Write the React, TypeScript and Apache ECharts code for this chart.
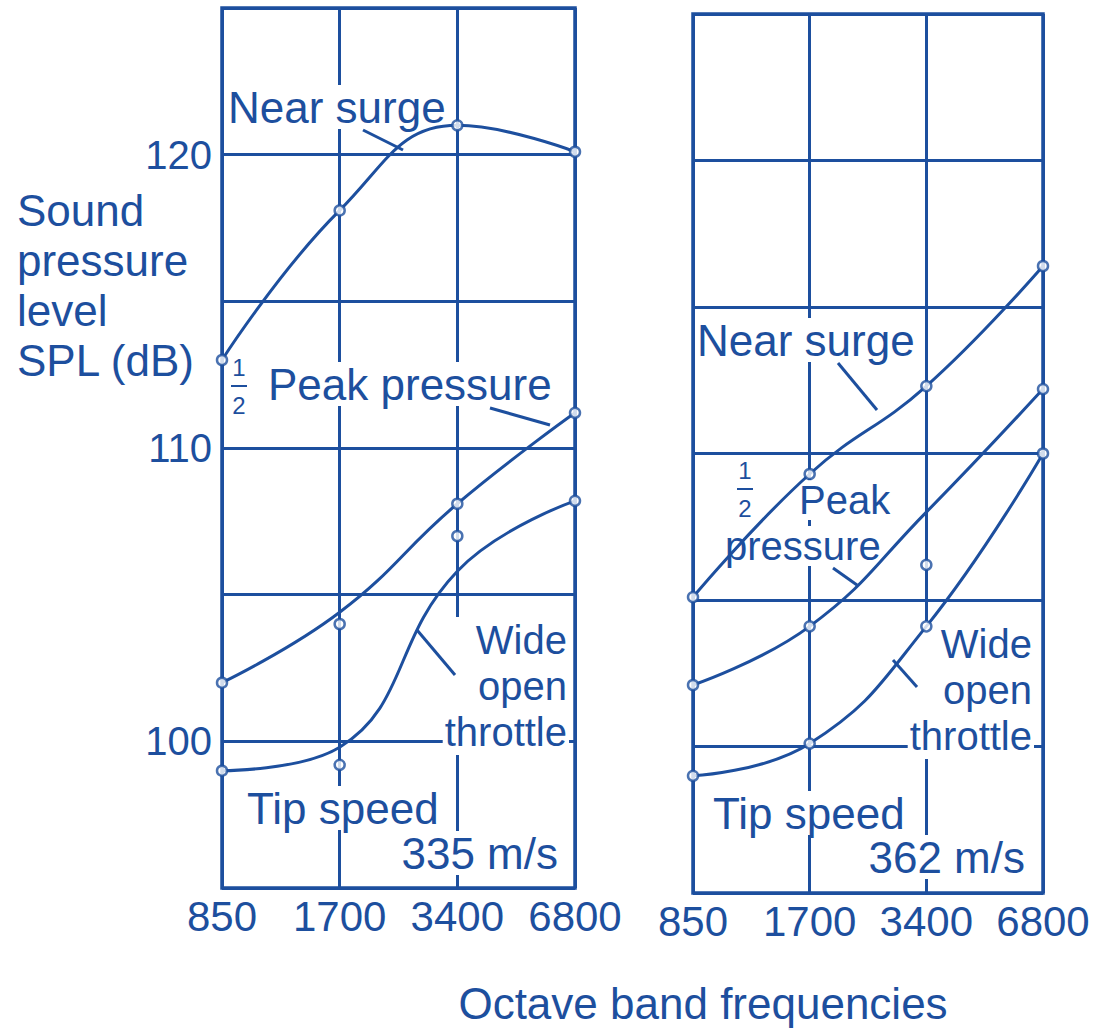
import React, { useEffect, useRef } from "react";
import * as echarts from "echarts";

// ---- data ----
const freqLabels = ["850", "1700", "3400", "6800"];
const yLabelledTicks = [100, 110, 120];

// Tip speed 335 m/s (left panel)
const nearSurge335 = [113, 118.1, 121, 120.1];
const peakPoints335 = [102, 104, 108.1, 111.2];
const peakCurve335 = [102, 104.4, 108.1, 111.2];
const wotPoints335 = [99, 99.2, 107, 108.2];
const wotCurve335 = [99, 99.8, 105.8, 108.2];

// Tip speed 362 m/s (right panel)
const nearSurge362 = [105.1, 109.3, 112.3, 116.4];
const peakPoints362 = [102.1, 104.1, 106.2, 112.2];
const peakCurve362 = [102.1, 104.1, 108, 112.2];
const wotPoints362 = [99, 100.1, 104.1, 110];
const wotCurve362 = [99, 100.1, 104.1, 110];

const BLUE = "#1d4f9e";
const FONT = '"Liberation Sans", Arial, sans-serif';

function curve(name: string, data: number[], axis: number) {
  return {
    name,
    type: "line",
    xAxisIndex: axis,
    yAxisIndex: axis,
    data,
    smooth: 0.45,
    showSymbol: false,
    symbol: "none",
    lineStyle: { color: BLUE, width: 3 },
    z: 3,
  };
}
function points(name: string, data: number[], axis: number) {
  return {
    name,
    type: "scatter",
    xAxisIndex: axis,
    yAxisIndex: axis,
    data,
    symbol: "circle",
    symbolSize: 10,
    itemStyle: { color: "#ffffff", borderColor: BLUE, borderWidth: 2.5 },
    z: 4,
  };
}

function label(text: string, x: number, y: number, align = "left", size = 44, bg = true, lineHeight?: number) {
  return {
    type: "text",
    x,
    y,
    z: 1,
    style: {
      text,
      font: `${size}px ${FONT}`,
      fill: BLUE,
      align,
      verticalAlign: "middle",
      textAlign: align,
      textVerticalAlign: "middle",
      lineHeight: lineHeight || size,
      backgroundColor: bg ? "#ffffff" : undefined,
      padding: bg ? [0, 2, 0, 2] : 0,
    },
  };
}
function pointer(x1: number, y1: number, x2: number, y2: number) {
  return {
    type: "line",
    z: 5,
    shape: { x1, y1, x2, y2 },
    style: { stroke: BLUE, lineWidth: 3 },
  };
}
function half(x: number, y: number) {
  return [
    label("1", x, y - 19, "center", 24, false),
    { type: "line", z: 5, shape: { x1: x - 8, y1: y, x2: x + 8, y2: y }, style: { stroke: BLUE, lineWidth: 2 } },
    label("2", x, y + 19, "center", 24, false),
  ];
}

export default function App() {
  const ref = useRef<HTMLDivElement>(null);
  useEffect(() => {
    if (!ref.current) return;
    const chart = echarts.init(ref.current, undefined, { renderer: "svg" });
    const xAxisBase = {
      type: "category",
      data: freqLabels,
      boundaryGap: false,
      axisLine: { show: false },
      axisTick: { show: false },
      axisLabel: { color: BLUE, fontSize: 42, fontFamily: FONT, margin: 7, interval: 0 },
      splitLine: { show: true, interval: 0, lineStyle: { color: BLUE, width: 3 } },
    };
    const yAxisBase = {
      type: "value",
      min: 95,
      max: 125,
      interval: 5,
      axisLine: { show: false },
      axisTick: { show: false },
      splitLine: { show: true, lineStyle: { color: BLUE, width: 3 } },
    };
    chart.setOption({
      animation: false,
      backgroundColor: "#ffffff",
      grid: [
        { left: 222, top: 8, width: 353, height: 880, show: true, borderColor: BLUE, borderWidth: 3.5, backgroundColor: "transparent" },
        { left: 693, top: 14, width: 350, height: 879, show: true, borderColor: BLUE, borderWidth: 3.5, backgroundColor: "transparent" },
      ],
      xAxis: [
        { ...xAxisBase, gridIndex: 0 },
        { ...xAxisBase, gridIndex: 1 },
      ],
      yAxis: [
        {
          ...yAxisBase,
          gridIndex: 0,
          axisLabel: {
            color: BLUE,
            fontSize: 40,
            fontFamily: FONT,
            margin: 10,
            formatter: (v: number) => (yLabelledTicks.includes(v) ? String(v) : ""),
          },
        },
        { ...yAxisBase, gridIndex: 1, axisLabel: { show: false } },
      ],
      series: [
        curve("Near surge 335", nearSurge335, 0),
        points("Near surge 335 pts", nearSurge335, 0),
        curve("Peak pressure 335", peakCurve335, 0),
        points("Peak pressure 335 pts", peakPoints335, 0),
        curve("Wide open throttle 335", wotCurve335, 0),
        points("Wide open throttle 335 pts", wotPoints335, 0),
        curve("Near surge 362", nearSurge362, 1),
        points("Near surge 362 pts", nearSurge362, 1),
        curve("Peak pressure 362", peakCurve362, 1),
        points("Peak pressure 362 pts", peakPoints362, 1),
        curve("Wide open throttle 362", wotCurve362, 1),
        points("Wide open throttle 362 pts", wotPoints362, 1),
      ],
      graphic: [
        // y-axis title
        label("Sound\npressure\nlevel\nSPL (dB)", 17, 285, "left", 44, false, 50),
        // x-axis title
        label("Octave band frequencies", 703, 1003, "center", 44, false),
        // left panel annotations
        label("Near surge", 226, 107),
        pointer(363, 130, 403, 150),
        ...half(239, 386),
        label("Peak pressure", 266, 384),
        pointer(490, 408, 550, 425),
        label("Wide\nopen\nthrottle", 569, 686, "right", 40, true, 46),
        pointer(417, 630, 455, 675),
        label("Tip speed", 245, 808),
        label("335 m/s", 560, 853, "right"),
        // right panel annotations
        label("Near surge", 695, 340),
        pointer(838, 363, 877, 410),
        ...half(745, 489),
        label("Peak", 797, 500, "left", 40),
        label("pressure", 723, 546, "left", 40),
        pointer(833, 568, 857, 585),
        label("Wide\nopen\nthrottle", 1034, 690, "right", 40, true, 46),
        pointer(893, 660, 917, 687),
        label("Tip speed", 711, 813),
        label("362 m/s", 1027, 857, "right"),
      ],
    });
    return () => chart.dispose();
  }, []);
  return (
    <div
      ref={ref}
      style={{ position: "fixed", left: 0, top: 0, width: 1096, height: 1031 }}
    />
  );
}
